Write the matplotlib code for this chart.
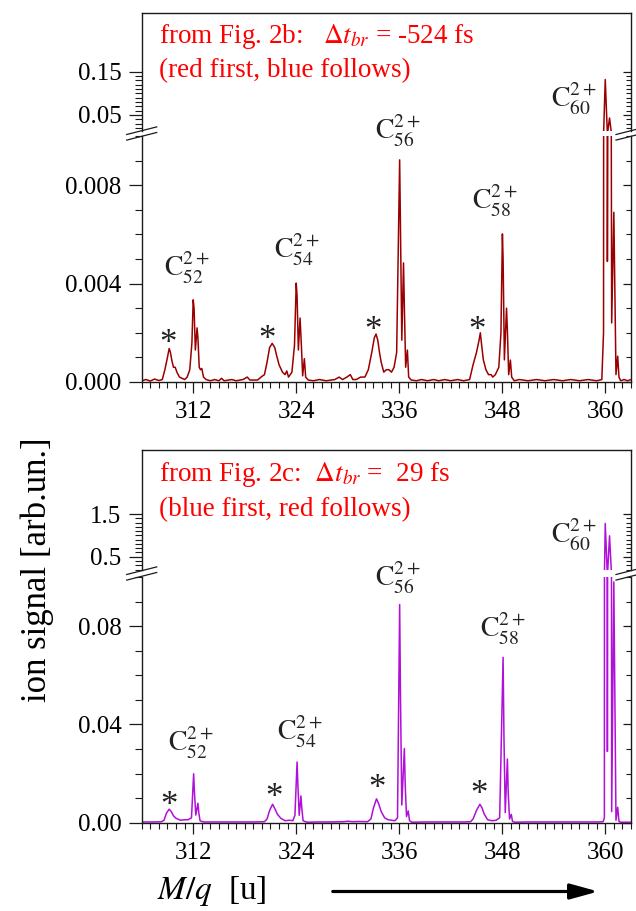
import matplotlib
matplotlib.use('Agg')
from matplotlib import pyplot as plt
from matplotlib.ticker import FixedLocator
from matplotlib.lines import Line2D
import numpy as np

plt.rcParams['font.family'] = ['Liberation Serif', 'DejaVu Serif']
plt.rcParams['mathtext.fontset'] = 'stix'

W, H = 636, 911

# ---- spectrum from Fig. 2b (red first, blue follows) ----
mz_b = [306.0, 306.5, 307.0, 307.5, 308.0, 308.4,
        308.7, 309.0, 309.2, 309.35, 309.5, 309.7, 309.9, 310.1, 310.4, 310.7, 311.0, 311.3, 311.6,
        311.85, 312.0, 312.1, 312.25, 312.45, 312.55, 312.7, 312.85, 313.0, 313.2, 313.5,
        314.0, 314.5, 315.0, 315.3, 315.6, 316.5, 317.0, 317.8, 318.3, 318.6, 319.5, 319.9, 320.3,
        320.6, 320.9, 321.2, 321.5, 321.7, 322.0, 322.4, 322.7, 322.9, 323.1, 323.5, 323.8,
        324.0, 324.1, 324.25, 324.45, 324.6, 324.75, 324.95, 325.1, 325.4,
        326.0, 326.7, 327.5, 328.5, 329.0, 329.4, 329.9, 330.3, 330.6, 331.0, 331.5, 332.0,
        332.4, 332.8, 333.1, 333.3, 333.5, 333.7, 333.9, 334.2, 334.5, 334.8, 335.1, 335.4, 335.7,
        336.05, 336.15, 336.3, 336.5, 336.6, 336.75, 336.95, 337.1, 337.4,
        338.0, 338.6, 339.3, 340.0, 340.6, 341.3, 342.0, 342.8, 343.5, 344.2,
        344.6, 345.0, 345.3, 345.45, 345.6, 345.8, 346.1, 346.4, 346.7, 346.9, 347.2, 347.6,
        347.85, 348.02, 348.1, 348.25, 348.5, 348.6, 348.75, 348.95, 349.1, 349.4,
        350.0, 351.0, 352.0, 353.0, 354.0, 355.0, 356.0, 357.0, 358.0, 359.0, 359.6,
        359.8, 360.0, 360.25, 360.5, 360.75, 361.0, 361.25, 361.45, 361.6, 361.8, 362.2, 362.6, 363.0]
sig_b = [0.00005, 0.0001, 0.00004, 0.00012, 0.00006, 0.0001,
         0.0005, 0.001, 0.00136, 0.0012, 0.0009, 0.0006, 0.0006, 0.0004, 0.0002, 0.00015, 0.0001, 0.0002, 0.0005,
         0.0016, 0.00334, 0.003, 0.0013, 0.0022, 0.0018, 0.0006, 0.0005, 0.00055, 0.0002, 0.0001,
         0.00005, 0.0001, 0.00005, 0.00015, 0.00005, 0.0001, 0.00005, 0.0001, 0.0002, 0.00008, 0.00008, 0.0002, 0.0003,
         0.0008, 0.0014, 0.00157, 0.0014, 0.0011, 0.0007, 0.0004, 0.0003, 0.00045, 0.0002, 0.0004, 0.0015,
         0.00402, 0.0035, 0.0013, 0.0026, 0.0015, 0.00025, 0.00095, 0.0002, 0.00008,
         0.00005, 0.0001, 0.00005, 0.0001, 0.0002, 0.0001, 0.0002, 0.0003, 0.0001, 0.0001, 0.0002, 0.0002,
         0.0005, 0.0012, 0.0018, 0.00195, 0.0017, 0.0012, 0.0008, 0.0004, 0.0005, 0.0005, 0.0004, 0.0006, 0.0012,
         0.00903, 0.006, 0.0017, 0.00484, 0.003, 0.0006, 0.0013, 0.0002, 0.00008,
         0.00005, 0.0001, 0.00005, 0.0001, 0.00005, 0.0001, 0.00005, 0.0001, 0.00005, 0.0001,
         0.0007, 0.0012, 0.0017, 0.002, 0.0015, 0.0009, 0.0005, 0.0003, 0.0003, 0.0002, 0.0003, 0.0006,
         0.002, 0.00602, 0.005, 0.0009, 0.003, 0.0021, 0.0003, 0.00089, 0.0002, 0.00005,
         0.0001, 0.00005, 0.0001, 0.00005, 0.0001, 0.00005, 0.0001, 0.00005, 0.0001, 0.00005, 0.0001,
         0.002, 0.132, 0.0049, 0.043, 0.0024, 0.0069, 0.0003, 0.00105, 0.0002, 0.00005, 0.0001, 0.00005, 0.0001]

# ---- spectrum from Fig. 2c (blue first, red follows) ----
mz_c = [306.0, 306.8, 307.6, 308.3,
        308.6, 308.9, 309.2, 309.45, 309.7, 310.0, 310.5, 311.0, 311.4, 311.8,
        312.05, 312.15, 312.3, 312.55, 312.65, 312.8, 313.0, 313.3,
        314.5, 316.0, 317.5, 319.0, 320.3,
        320.6, 320.9, 321.25, 321.5, 321.8, 322.2, 322.7, 323.2, 323.6, 323.85,
        324.1, 324.2, 324.35, 324.55, 324.65, 324.8, 325.0, 325.3,
        326.5, 328.0, 329.5, 330.0, 330.6, 331.2, 332.3,
        332.7, 333.0, 333.35, 333.6, 333.9, 334.3, 334.7, 335.1, 335.5, 335.8,
        336.05, 336.15, 336.3, 336.6, 336.7, 336.85, 337.05, 337.2, 337.5,
        339.0, 340.5, 342.0, 343.5, 344.3,
        344.6, 345.0, 345.4, 345.65, 345.9, 346.3, 346.8, 347.3, 347.7,
        348.1, 348.2, 348.35, 348.6, 348.7, 348.85, 349.05, 349.2, 349.5,
        351.0, 353.0, 355.0, 357.0, 359.0, 359.75,
        359.9, 360.0, 360.25, 360.5, 360.75, 361.0, 361.25, 361.45, 361.6, 361.8, 363.0]
sig_c = [0.0003, 0.0003, 0.0003, 0.0004,
         0.001, 0.004, 0.0055, 0.0045, 0.0028, 0.0018, 0.001, 0.0012, 0.0012, 0.002,
         0.0199, 0.012, 0.0031, 0.0079, 0.004, 0.0008, 0.0005, 0.0003,
         0.0003, 0.0003, 0.0003, 0.0003, 0.0004,
         0.0015, 0.005, 0.0075, 0.0058, 0.0035, 0.0018, 0.0008, 0.001, 0.0008, 0.003,
         0.0247, 0.015, 0.003, 0.0109, 0.006, 0.0008, 0.0005, 0.0002,
         0.0003, 0.0003, 0.0004, 0.0006, 0.0004, 0.0005, 0.0004,
         0.0015, 0.006, 0.0097, 0.0078, 0.0045, 0.002, 0.0012, 0.001, 0.0008, 0.002,
         0.0888, 0.05, 0.0072, 0.0302, 0.015, 0.0025, 0.0048, 0.0008, 0.0002,
         0.0003, 0.0003, 0.0003, 0.0003, 0.0004,
         0.0015, 0.005, 0.0075, 0.006, 0.0035, 0.0012, 0.0008, 0.001, 0.002,
         0.0673, 0.035, 0.0041, 0.0259, 0.012, 0.0015, 0.0034, 0.0005, 0.0002,
         0.0003, 0.0003, 0.0003, 0.0003, 0.0003, 0.0004,
         0.002, 1.28, 0.029, 0.99, 0.0045, 0.098, 0.001, 0.0063, 0.0005, 0.0002, 0.0002]

xticks = [312, 324, 336, 348, 360]
peak_names = [r'$\mathrm{C}_{52}^{2+}$', r'$\mathrm{C}_{54}^{2+}$', r'$\mathrm{C}_{56}^{2+}$',
              r'$\mathrm{C}_{58}^{2+}$', r'$\mathrm{C}_{60}^{2+}$']
name_x_b = [311.28, 324.09, 335.86, 347.16, 356.36]
name_y_b = [0.00465, 0.00535, 0.0102, 0.00735, 0.01151]
star_x_b = [309.06, 320.6, 332.94, 345.06]
star_y_b = [0.0018, 0.00196, 0.00233, 0.00233]
name_x_c = [311.74, 324.44, 335.86, 348.09, 356.36]
name_y_c = [0.0326, 0.0368, 0.0998, 0.0789, 0.117]
star_x_c = [309.18, 321.41, 333.41, 345.29]
star_y_c = [0.0093, 0.0126, 0.0163, 0.0138]

panels = [
    dict(mz=mz_b, sig=sig_b, color='#9b0000',
         hi_lim=(0.013, 0.2856), hi_major=[0.05, 0.15], hi_labels=['0.05', '0.15'],
         hi_minor=np.arange(0.02, 0.151, 0.01),
         lo_lim=(0, 0.01), lo_major=[0, 0.004, 0.008], lo_labels=['0.000', '0.004', '0.008'],
         lo_minor=np.arange(0, 0.0101, 0.001),
         px=(13, 131, 136, 382),
         names=(name_x_b, name_y_b), stars=(star_x_b, star_y_b),
         text1=r'from Fig. 2b:   $\Delta t_{br}$ = -524 fs', text2='(red first, blue follows)',
         base=(42.7, 77)),
    dict(mz=mz_c, sig=sig_c, color='#b010d8',
         hi_lim=(0.19, 3.0), hi_major=[0.5, 1.5], hi_labels=['0.5', '1.5'],
         hi_minor=np.arange(0.2, 1.51, 0.1),
         lo_lim=(0, 0.1), lo_major=[0, 0.04, 0.08], lo_labels=['0.00', '0.04', '0.08'],
         lo_minor=np.arange(0, 0.101, 0.01),
         px=(450, 570, 577, 822.7),
         names=(name_x_c, name_y_c), stars=(star_x_c, star_y_c),
         text1=r'from Fig. 2c:  $\Delta t_{br}$ =  29 fs', text2='(blue first, red follows)',
         base=(480.7, 516)),
]

fig = plt.figure(figsize=(W / 100, H / 100), dpi=100)
x0, x1 = 141.7, 631
sc = '#1a1a1a'


def rect(ytop, ybot):
    return [x0 / W, 1 - ybot / H, (x1 - x0) / W, (ybot - ytop) / H]


def style_y(ax, major, labels, minor):
    ax.set_yticks(major)
    ax.set_yticklabels(labels)
    ax.yaxis.set_minor_locator(FixedLocator(minor))
    ax.tick_params(axis='y', which='both', direction='out', left=True, right=False,
                   labelsize=18, pad=5, color=sc)
    ax.tick_params(axis='y', which='major', length=9.5, width=0.9)
    ax.tick_params(axis='y', which='minor', length=5, width=0.8)
    sec = ax.secondary_yaxis('right')
    sec.set_yticks(major)
    sec.set_yticklabels([])
    sec.yaxis.set_minor_locator(FixedLocator(minor))
    sec.tick_params(which='both', direction='in', color=sc)
    sec.tick_params(which='major', length=6, width=0.9)
    sec.tick_params(which='minor', length=3.5, width=0.8)
    sec.spines['right'].set_linewidth(1.0)
    sec.spines['right'].set_color(sc)


def break_marks(y_hi, y_lo):
    yc = (y_hi + y_lo) / 2
    for xs in (x0, x1):
        for dy in (-2.8, 2.8):
            xx = [xs - 15, xs + 15]
            yy = [yc + dy + 3.8, yc + dy - 3.8]
            fig.add_artist(Line2D([v / W for v in xx], [1 - v / H for v in yy],
                                  color=sc, lw=0.9, transform=fig.transFigure))


for p in panels:
    ytop, yhb, ylt, ybot = p['px']
    ax_hi = fig.add_axes(rect(ytop, yhb))
    ax_lo = fig.add_axes(rect(ylt, ybot))
    for ax in (ax_hi, ax_lo):
        ax.plot(p['mz'], p['sig'], color=p['color'], lw=1.1)
        ax.set_xlim(306, 363)
        for s in ax.spines.values():
            s.set_linewidth(1.0)
            s.set_color(sc)
        ax.spines['right'].set_visible(False)
    ax_hi.set_ylim(*p['hi_lim'])
    ax_lo.set_ylim(*p['lo_lim'])
    ax_hi.spines['bottom'].set_visible(False)
    ax_lo.spines['top'].set_visible(False)
    ax_hi.set_xticks([])
    ax_hi.tick_params(axis='x', which='both', bottom=False, top=False, labelbottom=False)
    style_y(ax_hi, p['hi_major'], p['hi_labels'], p['hi_minor'])
    style_y(ax_lo, p['lo_major'], p['lo_labels'], p['lo_minor'])

    ax_lo.set_xticks(xticks)
    ax_lo.set_xticklabels([str(t) for t in xticks])
    ax_lo.xaxis.set_minor_locator(FixedLocator(np.arange(306, 363.5, 1)))
    ax_lo.tick_params(axis='x', which='both', direction='out', top=False, labelsize=18,
                      pad=6, color=sc)
    ax_lo.tick_params(axis='x', which='major', length=8, width=0.9)
    ax_lo.tick_params(axis='x', which='minor', length=4, width=0.8)

    for name, nx, ny in zip(peak_names, *p['names']):
        ax_lo.text(nx, ny, name, fontsize=20, ha='center', va='center', color='#222222',
                   clip_on=False)
    for sx, sy in zip(*p['stars']):
        ax_lo.annotate('*', (sx, sy), xytext=(0, -11), textcoords='offset points',
                       fontsize=25, ha='center', va='baseline', color='#222222',
                       annotation_clip=False)

    fig.text(159 / W, 1 - p['base'][0] / H, p['text1'], color='#ff0000', fontsize=19.5,
             va='baseline', ha='left')
    fig.text(159 / W, 1 - p['base'][1] / H, p['text2'], color='#ff0000', fontsize=19.5,
             va='baseline', ha='left')
    break_marks(yhb, ylt)

fig.text(37 / W, 1 - 570 / H, 'ion signal [arb.un.]', rotation=90, fontsize=25,
         ha='center', va='center')
fig.text(157 / W, 1 - 891 / H, r'$M/q$  [u]', fontsize=24, ha='left', va='center')
fig.add_artist(matplotlib.patches.FancyArrowPatch(
    (330 / W, 1 - 891.5 / H), (601 / W, 1 - 891.5 / H), transform=fig.transFigure,
    arrowstyle='-|>,head_length=1.7,head_width=0.47', mutation_scale=10,
    lw=2.3, color='black'))

fig.savefig('out.png', dpi=100)
